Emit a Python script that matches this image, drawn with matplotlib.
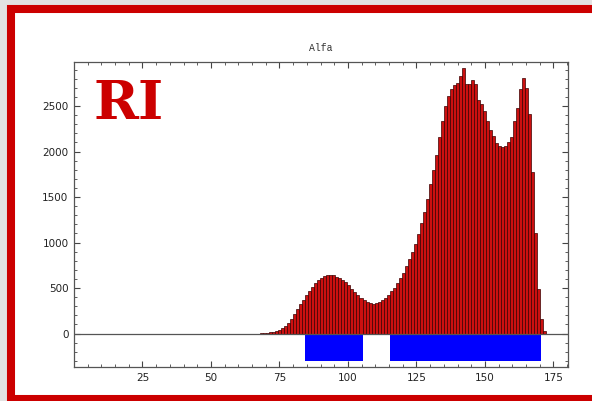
import numpy as np
import matplotlib.pyplot as plt
from matplotlib.patches import Rectangle

# histogram of alfa values, equal-width bins starting at bin_start
bin_start = 67.9
bin_width = 1.1
counts = [4, 6, 10, 12, 16, 25, 38, 58, 85, 118,
          160, 210, 265, 320, 370, 420, 468, 515, 555, 590,
          615, 632, 640, 645, 640, 625, 608, 588, 562, 530,
          492, 455, 420, 388, 365, 345, 333, 328, 332, 345,
          368, 395, 425, 462, 505, 555, 605, 665, 745, 820,
          895, 985, 1095, 1210, 1340, 1480, 1640, 1800, 1960, 2160,
          2340, 2500, 2610, 2690, 2730, 2758, 2832, 2917, 2740, 2740,
          2784, 2747, 2563, 2519, 2445, 2334, 2242, 2168, 2094, 2058,
          2050, 2060, 2100, 2157, 2334, 2481, 2685, 2813, 2700, 2408,
          1780, 1100, 494, 162, 33]

# marked regions under the axis
region_lo = [84.2, 115.2]
region_hi = [105.5, 170.4]
region_depth = -300

x_ticks = [25, 50, 75, 100, 125, 150, 175]
y_ticks = [0, 500, 1000, 1500, 2000, 2500]

W, H = 592, 401
fig = plt.figure(figsize=(W / 100, H / 100), dpi=100)
fig.patch.set_facecolor('#e2e2e2')

# white panel with thick red border, kept behind the axes
frame = Rectangle((11 / W, 2 / H), 1.2, (H - 9 - 2) / H, transform=fig.transFigure,
                  facecolor='white', edgecolor='#cc0000', linewidth=5.8, zorder=-10)
fig.patches.append(frame)

ax = fig.add_axes([74 / W, (H - 367) / H, 494 / W, 305 / H])
ax.set_facecolor('white')

edges = bin_start + bin_width * np.arange(len(counts))
ax.bar(edges, counts, width=bin_width, align='edge', color='#cc1010',
       edgecolor='#3a0000', linewidth=0.5, zorder=2)

lo = np.array(region_lo)
hi = np.array(region_hi)
ax.bar(lo, region_depth, width=hi - lo, bottom=0, align='edge',
       color='#0000ff', linewidth=0, zorder=2)

ax.axhline(0, color='#555555', linewidth=0.9, zorder=3)

ax.set_xlim(0, 180.3)
ax.set_ylim(-368, 2984)
ax.set_xticks(x_ticks)
ax.set_yticks(y_ticks)
ax.set_xticks(np.arange(5, 181, 5), minor=True)
ax.set_yticks(np.arange(-300, 2984, 100), minor=True)
ax.tick_params(which='both', direction='in', top=True, right=True,
               colors='#444444', labelcolor='#222222', labelsize=7.5)
ax.tick_params(which='major', length=4.5, width=0.8)
ax.tick_params(which='minor', length=2.5, width=0.6)
ax.tick_params(axis='x', pad=4)
ax.tick_params(axis='y', pad=4)
for s in ax.spines.values():
    s.set_color('#555555')
    s.set_linewidth(0.9)

ax.set_title('Alfa', fontfamily='Liberation Mono', fontsize=7, color='#333333', pad=8)

fig.text(94 / W, (H - 120) / H, 'RI', fontfamily='DejaVu Serif', fontweight='bold',
         fontsize=39, color='#cc0000', ha='left', va='baseline')

fig.savefig('out.png', dpi=100, facecolor=fig.get_facecolor())
